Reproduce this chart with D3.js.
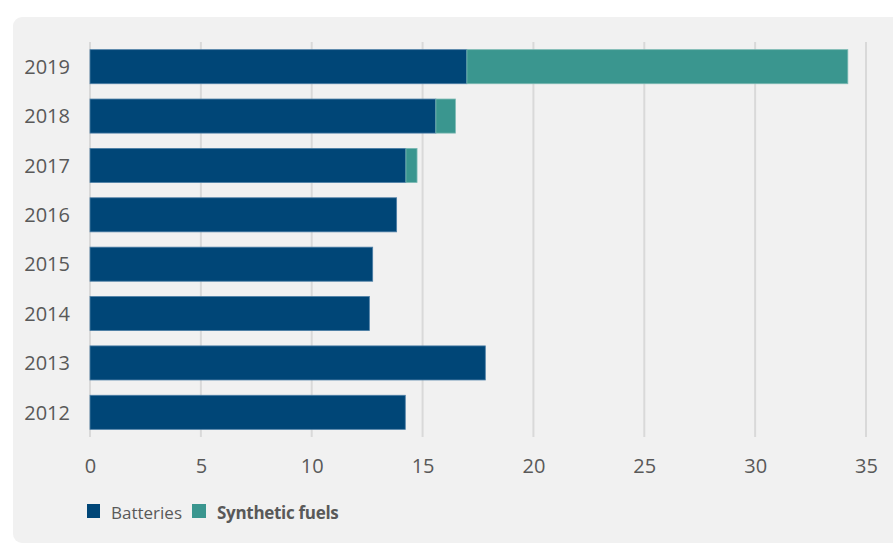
<!DOCTYPE html>
<html>
<head>
<meta charset="utf-8">
<script src="https://cdn.jsdelivr.net/npm/d3@7"></script>
<style>
  html, body { margin: 0; padding: 0; background: #ffffff; }
  svg { display: block; }
</style>
</head>
<body>
<svg id="chart" width="893" height="545"></svg>
<script>
const years = ["2019", "2018", "2017", "2016", "2015", "2014", "2013", "2012"];
const batteries = [17.0, 15.6, 14.25, 13.83, 12.75, 12.6, 17.83, 14.22];
const syntheticFuels = [17.18, 0.88, 0.5, 0, 0, 0, 0, 0];
const seriesNames = ["Batteries", "Synthetic fuels"];
const seriesColors = ["#004677", "#3a968f"];
const xTicks = [0, 5, 10, 15, 20, 25, 30, 35];

const svg = d3.select("#chart");

// panel
svg.append("rect")
  .attr("x", 13).attr("y", 17).attr("width", 900).attr("height", 526)
  .attr("rx", 9).attr("ry", 9)
  .attr("fill", "#f1f1f1");

const x = d3.scaleLinear().domain([0, 35]).range([90, 866]);
const y = d3.scaleBand().domain(years).range([42, 437]).paddingInner(0.31).paddingOuter(0.155);

// grid
const g = svg.append("g");
g.selectAll("line.grid").data(xTicks).join("line")
  .attr("class", "grid")
  .attr("x1", d => x(d)).attr("x2", d => x(d))
  .attr("y1", 42).attr("y2", 437)
  .attr("stroke", "#d9d9d9").attr("stroke-width", 2);

const rows = years.map((yr, i) => ({ year: yr, b: batteries[i], s: syntheticFuels[i] }));

// batteries
g.selectAll("rect.bat").data(rows).join("rect")
  .attr("class", "bat")
  .attr("x", x(0))
  .attr("y", d => y(d.year))
  .attr("width", d => x(d.b) - x(0))
  .attr("height", y.bandwidth())
  .attr("fill", seriesColors[0])
  .attr("stroke", "#4d7fa6").attr("stroke-width", 0.8);

// synthetic fuels
g.selectAll("rect.syn").data(rows.filter(d => d.s > 0)).join("rect")
  .attr("class", "syn")
  .attr("x", d => x(d.b))
  .attr("y", d => y(d.year))
  .attr("width", d => x(d.b + d.s) - x(d.b))
  .attr("height", y.bandwidth())
  .attr("fill", seriesColors[1])
  .attr("stroke", "#7bb9b3").attr("stroke-width", 0.8);

// y labels
const font = "'Open Sans', sans-serif";
g.selectAll("text.ylab").data(years).join("text")
  .attr("class", "ylab")
  .attr("x", 70)
  .attr("y", d => y(d) + y.bandwidth() / 2)
  .attr("dy", "0.36em")
  .attr("text-anchor", "end")
  .attr("font-family", font)
  .attr("font-size", 20)
  .attr("fill", "#595959")
  .text(d => d);

// x axis labels
const xAxis = d3.axisBottom(x).tickValues(xTicks).tickSize(0).tickPadding(0);
const ax = svg.append("g").attr("transform", "translate(0,466)").call(xAxis);
ax.select(".domain").remove();
ax.selectAll("text")
  .attr("font-family", font)
  .attr("font-size", 20)
  .attr("fill", "#595959")
  .attr("dy", "0.36em")
  .attr("y", 0);

// legend
const leg = svg.append("g");
leg.append("rect").attr("x", 87).attr("y", 504).attr("width", 13).attr("height", 14).attr("fill", seriesColors[0]);
leg.append("text").attr("x", 111).attr("y", 519)
  .attr("font-family", font).attr("font-size", 17).attr("fill", "#595959")
  .text(seriesNames[0]);
leg.append("rect").attr("x", 192).attr("y", 504).attr("width", 14).attr("height", 14).attr("fill", seriesColors[1]);
leg.append("text").attr("x", 217).attr("y", 519)
  .attr("font-family", font).attr("font-size", 17).attr("font-weight", "bold").attr("fill", "#595959")
  .attr("letter-spacing", -0.3)
  .text(seriesNames[1]);
</script>
</body>
</html>
